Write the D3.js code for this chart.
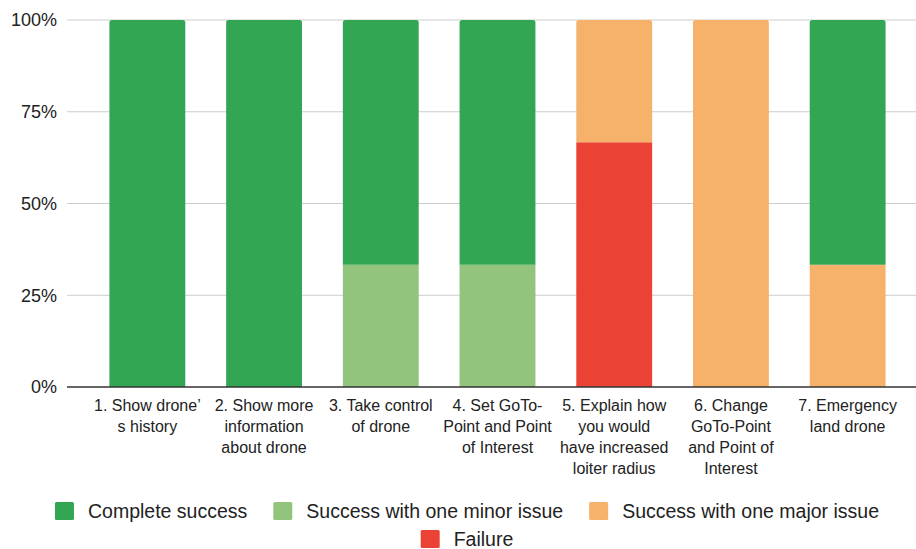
<!DOCTYPE html>
<html>
<head>
<meta charset="utf-8">
<script src="https://cdn.jsdelivr.net/npm/d3@7"></script>
<style>
  html, body { margin: 0; padding: 0; background: #fff; }
  svg { display: block; font-family: "Liberation Sans", Arial, sans-serif; }
</style>
</head>
<body>
<svg id="chart" width="916" height="549"></svg>
<script>
// Usability test tasks (three participants per task)
const tasks = [
  "1. Show drone’\ns history",
  "2. Show more\ninformation\nabout drone",
  "3. Take control\nof drone",
  "4. Set GoTo-\nPoint and Point\nof Interest",
  "5. Explain how\nyou would\nhave increased\nloiter radius",
  "6. Change\nGoTo-Point\nand Point of\nInterest",
  "7. Emergency\nland drone"
];

// Participants per outcome for each task
const completeSuccess = [3, 3, 2, 2, 0, 0, 2];
const minorIssue      = [0, 0, 1, 1, 0, 0, 0];
const majorIssue      = [0, 0, 0, 0, 1, 3, 1];
const failure         = [0, 0, 0, 0, 2, 0, 0];

const yTicks = [0, 0.25, 0.5, 0.75, 1];

const seriesNames = ["Complete success", "Success with one minor issue", "Success with one major issue", "Failure"];
const seriesKeys = ["complete", "minor", "major", "failure"];
const colors = { complete: "#33a654", minor: "#93c47d", major: "#f6b26b", failure: "#ea4335" };

const rows = tasks.map((t, i) => ({
  task: t,
  complete: completeSuccess[i],
  minor: minorIssue[i],
  major: majorIssue[i],
  failure: failure[i]
}));

// bottom-up stacking order
const stackKeys = ["failure", "major", "minor", "complete"];
const stacked = d3.stack().keys(stackKeys).offset(d3.stackOffsetExpand)(rows);

const svg = d3.select("#chart");
const plot = { left: 67, right: 916, top: 20, bottom: 387 };

const x = d3.scaleBand().domain(tasks).range([89, 906]).paddingInner(0.35).paddingOuter(0.175);
const y = d3.scaleLinear().domain([0, 1]).range([plot.bottom, plot.top]);

// gridlines
svg.append("g")
  .selectAll("line")
  .data(yTicks.filter(d => d > 0))
  .join("line")
  .attr("x1", plot.left).attr("x2", plot.right)
  .attr("y1", d => y(d)).attr("y2", d => y(d))
  .attr("stroke", "#cccccc").attr("stroke-width", 1);

// y axis labels
const yAxis = d3.axisLeft(y).tickValues(yTicks).tickFormat(d3.format(".0%")).tickSize(0).tickPadding(10);
const yg = svg.append("g").attr("transform", `translate(${plot.left},0)`).call(yAxis);
yg.select(".domain").remove();
yg.selectAll("text").attr("font-size", 18).attr("fill", "#222").attr("font-family", "'Liberation Sans', Arial, sans-serif");

// top-rounded rectangle path
function barPath(x0, y0, w, h, r) {
  r = Math.min(r, h / 2, w / 2);
  return `M${x0},${y0 + h}V${y0 + r}Q${x0},${y0} ${x0 + r},${y0}H${x0 + w - r}Q${x0 + w},${y0} ${x0 + w},${y0 + r}V${y0 + h}Z`;
}

// topmost non-empty layer for each task
const topKey = rows.map(r => {
  let k = null;
  stackKeys.forEach(key => { if (r[key] > 0) k = key; });
  return k;
});

svg.append("g")
  .selectAll("g")
  .data(stacked)
  .join("g")
  .attr("fill", s => colors[s.key])
  .selectAll("path")
  .data(s => s.map((d, i) => ({ key: s.key, d, i })))
  .join("path")
  .filter(o => o.d[1] - o.d[0] > 0)
  .attr("d", o => {
    const x0 = x(o.d.data.task);
    const y0 = y(o.d[1]);
    const h = y(o.d[0]) - y(o.d[1]);
    const r = topKey[o.i] === o.key ? 2.5 : 0;
    return barPath(x0, y0, x.bandwidth(), h, r);
  });

// baseline
svg.append("line")
  .attr("x1", plot.left).attr("x2", plot.right)
  .attr("y1", plot.bottom).attr("y2", plot.bottom)
  .attr("stroke", "#333").attr("stroke-width", 1.3);

// category labels
const xl = svg.append("g");
tasks.forEach(t => {
  const lines = t.split("\n");
  const txt = xl.append("text")
    .attr("x", x(t) + x.bandwidth() / 2)
    .attr("text-anchor", "middle")
    .attr("font-size", 16)
    .attr("fill", "#222");
  lines.forEach((ln, j) => {
    txt.append("tspan")
      .attr("x", x(t) + x.bandwidth() / 2)
      .attr("y", 411 + j * 21)
      .text(ln);
  });
});

// legend
const legend = svg.append("g");
const swatch = 19, gapText = 14, gapItem = 26, fontSize = 19.5;
function legendRow(items, cy, centerX) {
  const g = legend.append("g");
  let cx = 0;
  items.forEach(it => {
    g.append("rect")
      .attr("x", cx).attr("y", cy - 9).attr("width", swatch).attr("height", 18)
      .attr("rx", 1.5)
      .attr("fill", colors[it.key]);
    const tx = g.append("text")
      .attr("x", cx + swatch + gapText).attr("y", cy + 7)
      .attr("font-size", fontSize).attr("fill", "#222")
      .text(it.name);
    cx += swatch + gapText + tx.node().getComputedTextLength() + gapItem;
  });
  const total = cx - gapItem;
  g.attr("transform", `translate(${centerX - total / 2},0)`);
}
const items = seriesKeys.map((k, i) => ({ key: k, name: seriesNames[i] }));
legendRow(items.slice(0, 3), 511, 467);
legendRow(items.slice(3), 539, 467);
</script>
</body>
</html>
